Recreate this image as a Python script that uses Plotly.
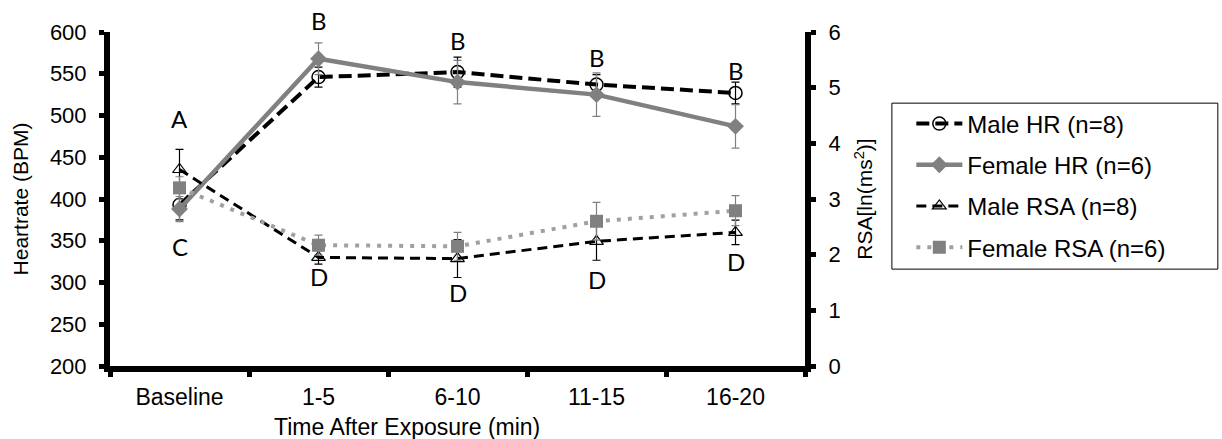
import plotly.graph_objects as go

categories = ["Baseline", "1-5", "6-10", "11-15", "16-20"]

male_hr = [393, 546, 552, 537, 527]
male_hr_err = [18, 12, 18, 12, 13]
female_hr = [388, 568, 540, 525, 487]
female_hr_err = [15, 19, 26, 26, 26]

male_rsa = [3.53, 1.95, 1.93, 2.24, 2.40]
male_rsa_err = [0.36, 0.12, 0.34, 0.34, 0.22]
female_rsa = [3.20, 2.17, 2.15, 2.60, 2.79]
female_rsa_err = [0.20, 0.18, 0.25, 0.34, 0.27]

# significance letters, vertical position expressed in heart-rate units (BPM)
letters_top = ["A", "B", "B", "B", "B"]
letters_top_y = [497, 614, 590, 569, 554]
letters_bottom = ["C", "D", "D", "D", "D"]
letters_bottom_y = [343, 307, 288, 304, 325]

hr_range = [200, 600]
rsa_range = [0, 6]
hr_ticks = [200, 250, 300, 350, 400, 450, 500, 550, 600]
rsa_ticks = [0, 1, 2, 3, 4, 5, 6]

BLACK = "#000000"
GRAY = "#808080"
LGRAY = "#a0a0a0"
FONT = "Liberation Sans, Arial, sans-serif"

fig = go.Figure()

fig.add_trace(go.Scatter(
    x=categories, y=male_hr, name="Male HR (n=8)", mode="lines+markers",
    line=dict(color=BLACK, width=4, dash="13px,6px"),
    marker=dict(symbol="circle-open", size=13, color=BLACK, line=dict(width=1.5)),
    error_y=dict(type="data", array=male_hr_err, color=BLACK, thickness=1.2, width=4),
    legendgroup="a", yaxis="y"))

fig.add_trace(go.Scatter(
    x=categories, y=female_hr, name="Female HR (n=6)", mode="lines+markers",
    line=dict(color=GRAY, width=4.5),
    marker=dict(symbol="diamond", size=13, color=GRAY),
    error_y=dict(type="data", array=female_hr_err, color=GRAY, thickness=1.2, width=4),
    legendgroup="b", yaxis="y"))

fig.add_trace(go.Scatter(
    x=categories, y=male_rsa, name="Male RSA (n=8)", mode="lines+markers",
    line=dict(color=BLACK, width=3, dash="10px,6px"),
    marker=dict(symbol="triangle-up-open", size=12, color=BLACK, line=dict(width=1.2)),
    error_y=dict(type="data", array=male_rsa_err, color=BLACK, thickness=1.2, width=4),
    legendgroup="c", yaxis="y2"))

fig.add_trace(go.Scatter(
    x=categories, y=female_rsa, name="Female RSA (n=6)", mode="lines+markers",
    line=dict(color=LGRAY, width=4, dash="4px,7px"),
    marker=dict(symbol="square", size=13, color=GRAY),
    error_y=dict(type="data", array=female_rsa_err, color=GRAY, thickness=1.2, width=4),
    legendgroup="d", yaxis="y2"))


def hr_to_paper(v):
    return (v - hr_range[0]) / (hr_range[1] - hr_range[0])


annotations = []
for c, t, yv in zip(categories, letters_top, letters_top_y):
    annotations.append(dict(x=c, y=hr_to_paper(yv), xref="x", yref="paper", text=t,
                            showarrow=False, yanchor="middle",
                            font=dict(family="Lato, sans-serif", size=24, color=BLACK)))
for c, t, yv in zip(categories, letters_bottom, letters_bottom_y):
    annotations.append(dict(x=c, y=hr_to_paper(yv), xref="x", yref="paper", text=t,
                            showarrow=False, yanchor="middle",
                            font=dict(family="Lato, sans-serif", size=24, color=BLACK)))
annotations.append(dict(x=0.427, y=-0.183, xref="paper", yref="paper",
                        text="Time After Exposure (min)", showarrow=False,
                        xanchor="center", yanchor="middle",
                        font=dict(family=FONT, size=23, color=BLACK)))

fig.update_layout(
    width=1222, height=439,
    margin=dict(l=110, r=417, t=32, b=73),
    paper_bgcolor="white", plot_bgcolor="white",
    font=dict(family=FONT, color=BLACK, size=21),
    showlegend=True,
    legend=dict(x=1.153, y=0.792, xanchor="left", yanchor="top",
                borderwidth=0, bgcolor="rgba(0,0,0,0)",
                font=dict(size=24, family=FONT), traceorder="grouped",
                tracegroupgap=7, itemwidth=46),
    shapes=[dict(type="rect", xref="paper", yref="paper",
                 x0=1.125, x1=1.594, y0=0.290, y1=0.787,
                 line=dict(color=BLACK, width=1), fillcolor="rgba(0,0,0,0)")],
    xaxis=dict(type="category", categoryorder="array", categoryarray=categories,
               range=[-0.5, 4.5], showgrid=False, zeroline=False,
               showline=True, linecolor=BLACK, linewidth=6,
               ticks="outside", tickson="boundaries", ticklen=5, tickwidth=5,
               tickcolor=BLACK, tickfont=dict(size=23), ticklabelstandoff=5),
    yaxis=dict(range=hr_range, tickvals=hr_ticks, showgrid=False, zeroline=False,
               showline=True, linecolor=BLACK, linewidth=6,
               ticks="outside", ticklen=5, tickwidth=5, tickcolor=BLACK,
               tickfont=dict(size=22), ticklabelstandoff=8,
               title=dict(text="Heartrate (BPM)", font=dict(size=21), standoff=18)),
    yaxis2=dict(range=rsa_range, tickvals=rsa_ticks, overlaying="y", side="right",
                showgrid=False, zeroline=False,
                showline=True, linecolor=BLACK, linewidth=6,
                ticks="outside", ticklen=5, tickwidth=5, tickcolor=BLACK,
                tickfont=dict(size=22), ticklabelstandoff=8,
                title=dict(text="RSA[ln(ms<sup>2</sup>)]", font=dict(size=21), standoff=20)),
    annotations=annotations,
)

fig.write_html("out.html")
